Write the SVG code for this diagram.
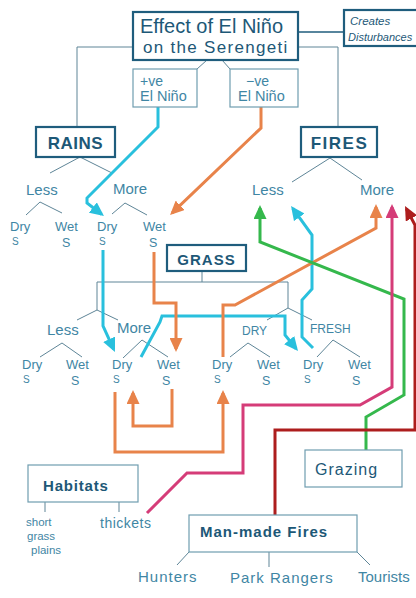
<svg xmlns="http://www.w3.org/2000/svg" width="416" height="598" viewBox="0 0 416 598">
  <style>
    .box{fill:#fff;stroke:#1f5d7d;stroke-width:2.2}
    .sbox{fill:#fff;stroke:#6f9db0;stroke-width:1.2}
    .tree{fill:none;stroke:#5e8597;stroke-width:1}
    .hand{font-family:"Liberation Sans","Noto Sans",sans-serif;fill:#3f86a4}
    .dark{font-family:"Liberation Sans","Noto Sans",sans-serif;fill:#1d5877}
    .bold{font-family:"Liberation Sans","Noto Sans",sans-serif;font-weight:bold;fill:#1d5877}
    .flow{fill:none;stroke-width:3;stroke-linejoin:miter}
    .cyan{stroke:#29c0dd}
    .orange{stroke:#e8834a}
    .green{stroke:#35b84c}
    .pink{stroke:#d53c78}
    .red{stroke:#ad1d1d}
    .lbl{font-size:13px}
    .s1{font-size:10px}
    .s2{font-size:12.5px}
  </style>
  <defs>
    <marker id="ah-cyan" viewBox="0 0 14 13" markerUnits="userSpaceOnUse" markerWidth="14" markerHeight="13" refX="11" refY="6.5" orient="auto"><path d="M0,0 L14,6.5 L0,13 z" fill="#29c0dd"/></marker>
    <marker id="ah-orange" viewBox="0 0 14 13" markerUnits="userSpaceOnUse" markerWidth="14" markerHeight="13" refX="11" refY="6.5" orient="auto"><path d="M0,0 L14,6.5 L0,13 z" fill="#e8834a"/></marker>
    <marker id="ah-green" viewBox="0 0 14 13" markerUnits="userSpaceOnUse" markerWidth="14" markerHeight="13" refX="11" refY="6.5" orient="auto"><path d="M0,0 L14,6.5 L0,13 z" fill="#35b84c"/></marker>
    <marker id="ah-pink" viewBox="0 0 14 13" markerUnits="userSpaceOnUse" markerWidth="14" markerHeight="13" refX="11" refY="6.5" orient="auto"><path d="M0,0 L14,6.5 L0,13 z" fill="#d53c78"/></marker>
    <marker id="ah-red" viewBox="0 0 14 13" markerUnits="userSpaceOnUse" markerWidth="14" markerHeight="13" refX="11" refY="6.5" orient="auto"><path d="M0,0 L14,6.5 L0,13 z" fill="#ad1d1d"/></marker>
  </defs>

  <rect width="416" height="598" fill="#fff"/>

  <!-- structural tree lines -->
  <g id="connectors">
    <g class="tree">
      <path d="M298,32 L344,32" stroke="#1f5d7d" stroke-width="1.5"/>
      <path d="M133,47 L77,47 L77,127"/>
      <path d="M298,47 L338,47 L338,127"/>
      <path d="M207,60 L197,69"/>
      <path d="M222,60 L230,69"/>
      <path d="M50,173 L80,157 L112,173"/>
      <path d="M292,182 L330,158 L362,180"/>
      <path d="M26,215 L40,202 L62,213"/>
      <path d="M112,214 L125,203 L147,215"/>
      <path d="M202,271 L202,282"/>
      <path d="M97,310 L97,282 L288,282 L288,308"/>
      <path d="M77,320 L97,310 L118,320"/>
      <path d="M267,320 L288,308 L312,320"/>
      <path d="M40,357 L62,343 L82,357"/>
      <path d="M123,358 L142,340 L168,357"/>
      <path d="M230,357 L248,343 L270,357"/>
      <path d="M317,357 L333,340 L360,357"/>
      <path d="M45,502 L45,512"/>
      <path d="M119,502 L119,512"/>
      <path d="M189,552 L177,565"/>
      <path d="M269,552 L269,567"/>
      <path d="M357,552 L370,565"/>
    </g>
    <!-- coloured influence arrows -->
    <path class="flow cyan" d="M158,107 L158,127 L87,198 L87,203 L101.6,214.2" marker-end="url(#ah-cyan)"/>
    <path class="flow cyan" d="M103,250 L103,326 L113.7,349.3" marker-end="url(#ah-cyan)"/>
    <path class="flow cyan" d="M141,357 L160,322 L162,316 L285,316 L285,335 L296.1,348.7" marker-end="url(#ah-cyan)"/>
    <path class="flow cyan" d="M313,348 L302,337 L302,300 L312,289 L312,235 L292.8,208.4" marker-end="url(#ah-cyan)"/>
    <path class="flow orange" d="M261,107 L261,128 L172.2,212.9" marker-end="url(#ah-orange)"/>
    <path class="flow orange" d="M154,252 L154,303 L176,303 L176,349" marker-end="url(#ah-orange)"/>
    <path class="flow orange" d="M223,357 L223,305 L235,305 L376,228 L376,207" marker-end="url(#ah-orange)"/>
    <path class="flow orange" d="M172,389 L172,426 L133,426 L133,393" marker-end="url(#ah-orange)"/>
    <path class="flow orange" d="M115,392 L115,452 L223,452 L223,393" marker-end="url(#ah-orange)"/>
    <path class="flow green" d="M366,450 L366,417 L404,395 L404,299 L260,242 L260,208" marker-end="url(#ah-green)"/>
    <path class="flow pink" d="M147,513 L187,473 L243,473 L243,405 L360,405 L392,387 L392,207" marker-end="url(#ah-pink)"/>
    <path class="flow red" d="M275,515 L275,430 L415,430 L415,225 L406.4,208.7" marker-end="url(#ah-red)"/>
  </g>

  <g id="effect-el-nino">
    <rect class="box" x="133" y="12" width="165" height="48"/>
    <text class="dark" x="140" y="33" font-size="20">Effect of El Niño</text>
    <text class="dark" x="143" y="53" font-size="17" letter-spacing="1.3">on the Serengeti</text>
  </g>
  <g id="creates-disturbances">
    <rect class="box" x="344" y="10" width="80" height="36"/>
    <text class="dark" x="350" y="25" font-size="11.5" font-style="italic">Creates</text>
    <text class="dark" x="348" y="41" font-size="11" font-style="italic">Disturbances</text>
  </g>
  <g id="positive-el-nino">
    <rect class="sbox" x="133" y="69" width="64" height="38"/>
    <text class="hand" x="140" y="86" font-size="14">+ve</text>
    <text class="hand" x="140" y="101" font-size="14.5">El Niño</text>
  </g>
  <g id="negative-el-nino">
    <rect class="sbox" x="230" y="69" width="68" height="38"/>
    <text class="hand" x="246" y="86" font-size="14">−ve</text>
    <text class="hand" x="238" y="101" font-size="14.5">El Niño</text>
  </g>

  <g id="rains">
    <rect class="box" x="36" y="127" width="79" height="30" stroke-width="2.5"/>
    <text class="bold" x="75.5" y="149" font-size="17" text-anchor="middle" letter-spacing="0.5">RAINS</text>
  </g>
  <g id="fires">
    <rect class="box" x="301" y="127" width="76" height="30" stroke-width="2.5"/>
    <text class="bold" x="339.5" y="149" font-size="17" text-anchor="middle" letter-spacing="1.5">FIRES</text>
  </g>

  <g id="rains-less"><text class="hand" x="26" y="195" font-size="15">Less</text></g>
  <g id="rains-more"><text class="hand" x="113" y="194" font-size="15">More</text></g>
  <g id="rains-less-dry"><text class="hand lbl" x="10" y="231">Dry</text><text class="hand s1" x="12" y="245">S</text></g>
  <g id="rains-less-wet"><text class="hand lbl" x="55" y="231">Wet</text><text class="hand s2" x="62" y="247">S</text></g>
  <g id="rains-more-dry"><text class="hand lbl" x="97" y="231">Dry</text><text class="hand s1" x="99" y="245">S</text></g>
  <g id="rains-more-wet"><text class="hand lbl" x="143" y="231">Wet</text><text class="hand s2" x="149" y="247">S</text></g>

  <g id="fires-less"><text class="hand" x="252" y="195" font-size="15">Less</text></g>
  <g id="fires-more"><text class="hand" x="360" y="195" font-size="15">More</text></g>

  <g id="grass">
    <rect class="box" x="167" y="245" width="79" height="26" stroke-width="2.5"/>
    <text class="bold" x="206.5" y="265" font-size="15" text-anchor="middle" letter-spacing="1">GRASS</text>
  </g>
  <g id="grass-less"><text class="hand" x="47" y="335" font-size="15">Less</text></g>
  <g id="grass-more"><text class="hand" x="117" y="333" font-size="15">More</text></g>
  <g id="grass-dry"><text class="hand" x="242" y="335" font-size="12">DRY</text></g>
  <g id="grass-fresh"><text class="hand" x="310" y="333" font-size="12">FRESH</text></g>

  <g id="grass-less-dry"><text class="hand lbl" x="22" y="369">Dry</text><text class="hand s1" x="23" y="383">S</text></g>
  <g id="grass-less-wet"><text class="hand lbl" x="66" y="369">Wet</text><text class="hand s2" x="71" y="385">S</text></g>
  <g id="grass-more-dry"><text class="hand lbl" x="112" y="369">Dry</text><text class="hand s1" x="113" y="383">S</text></g>
  <g id="grass-more-wet"><text class="hand lbl" x="157" y="369">Wet</text><text class="hand s2" x="162" y="385">S</text></g>
  <g id="grass-dry-dry"><text class="hand lbl" x="212" y="369">Dry</text><text class="hand s1" x="214" y="383">S</text></g>
  <g id="grass-dry-wet"><text class="hand lbl" x="257" y="369">Wet</text><text class="hand s2" x="262" y="385">S</text></g>
  <g id="grass-fresh-dry"><text class="hand lbl" x="303" y="369">Dry</text><text class="hand s1" x="304" y="383">S</text></g>
  <g id="grass-fresh-wet"><text class="hand lbl" x="348" y="369">Wet</text><text class="hand s2" x="352" y="385">S</text></g>

  <g id="habitats">
    <rect class="sbox" x="28" y="465" width="110" height="37"/>
    <text class="bold" x="43" y="491" font-size="15" letter-spacing="0.8">Habitats</text>
  </g>
  <g id="short-grass-plains">
    <text class="hand" x="26" y="526" font-size="11.5">short</text>
    <text class="hand" x="27" y="540" font-size="11.5">grass</text>
    <text class="hand" x="31" y="554" font-size="11.5">plains</text>
  </g>
  <g id="thickets"><text class="hand" x="100" y="528" font-size="14" letter-spacing="0.5">thickets</text></g>

  <g id="grazing">
    <rect class="sbox" x="305" y="450" width="97" height="37"/>
    <text class="dark" x="315" y="475" font-size="16" letter-spacing="1">Grazing</text>
  </g>

  <g id="man-made-fires">
    <rect class="sbox" x="189" y="515" width="168" height="37"/>
    <text class="bold" x="200" y="537" font-size="15" letter-spacing="1">Man-made Fires</text>
  </g>
  <g id="hunters"><text class="hand" x="138" y="582" font-size="15" letter-spacing="1">Hunters</text></g>
  <g id="park-rangers"><text class="hand" x="230" y="583" font-size="15" letter-spacing="1">Park Rangers</text></g>
  <g id="tourists"><text class="hand" x="358" y="582" font-size="15">Tourists</text></g>
</svg>
